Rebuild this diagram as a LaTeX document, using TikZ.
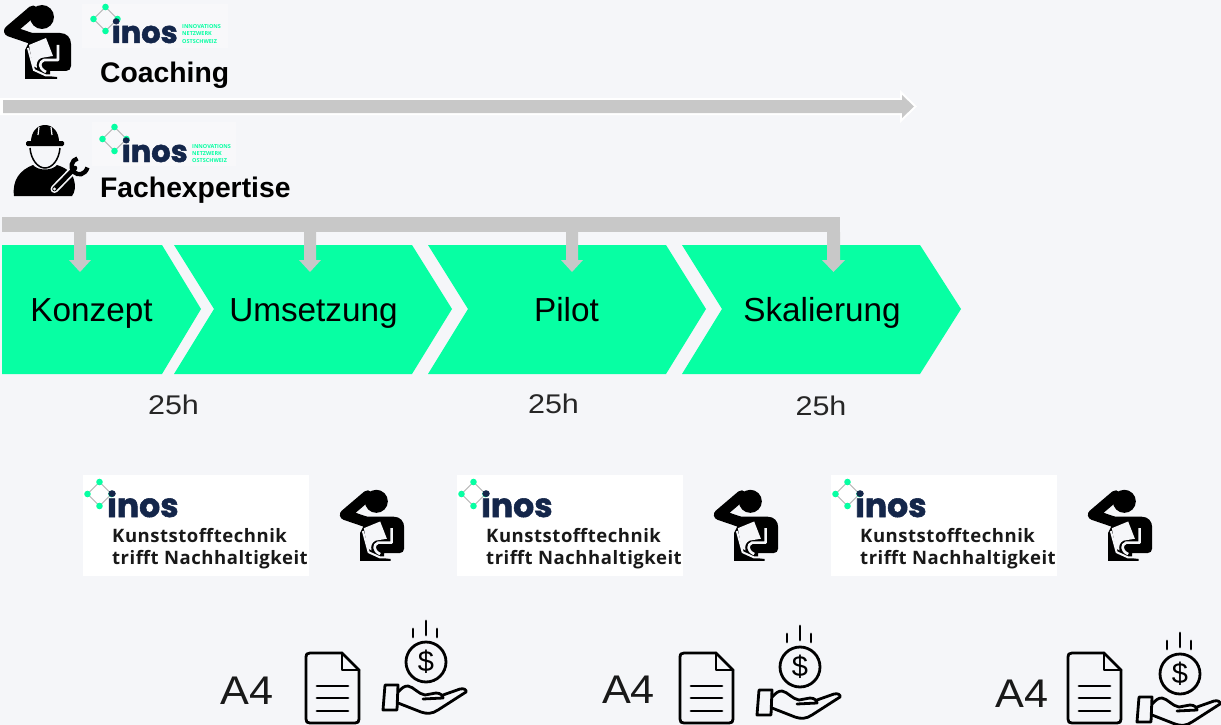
\documentclass[tikz,border=0pt]{standalone}
\usepackage{graphicx}
\usepackage{fontspec}
\setmainfont{Liberation Sans}
\newfontfamily\inosfont[BoldFeatures={FakeBold=1.6}]{Poppins}
\newfontfamily\opensans{Open Sans}
\definecolor{pagebg}{HTML}{F5F6F9}
\definecolor{mint}{HTML}{07FFA3}
\definecolor{greybar}{HTML}{C8C8C8}
\definecolor{navy}{HTML}{14264A}
\tikzset{
  x=1pt,y=-1pt,
  chevron/.style={fill=mint,draw=none},
  bar/.style={fill=greybar,draw=none},
  steplabel/.style={font=\fontsize{33.3}{33}\selectfont,text=black,inner sep=0pt,anchor=base},
  hours/.style={font=\fontsize{27}{27}\selectfont,text=black!85,inner sep=0pt,anchor=base},
  headlabel/.style={font=\fontsize{28.3}{28}\selectfont\bfseries,text=black,inner sep=0pt,anchor=base west},
  a4label/.style={font=\fontsize{40}{40}\selectfont,text=black!90,inner sep=0pt,anchor=base},
  iconline/.style={draw=black,line width=2.8pt,line join=round,line cap=round,fill=none},
  logotext/.style={font=\inosfont\fontsize{33}{33}\selectfont\bfseries,text=navy,inner sep=0pt,anchor=base west},
  headlogo/.style={font=\inosfont\fontsize{30.5}{31}\selectfont\bfseries,text=navy,inner sep=0pt,anchor=base west},
  tinylogo/.style={font=\opensans\fontsize{5.5}{7.2}\selectfont\bfseries,text=mint,inner sep=0pt,anchor=west,align=left},
  kttext/.style={font=\opensans\addfontfeature{LetterSpace=2.9}\fontsize{18.5}{22.6}\selectfont\bfseries,text=black!90,inner sep=0pt,anchor=base west,align=left},
}
\newcommand{\diamondlogo}[1]{%
  \begin{scope}[shift={#1}]
    \draw[gray!60,line width=.8pt] (0,-12)--(12,0)--(0,12)--(-12,0)--cycle;
    \foreach \p in {(0,-12),(12,0),(0,12),(-12,0)} \fill[mint] \p circle (3.3);
  \end{scope}}
\newcommand{\coachicon}[2]{%
  \begin{scope}[shift={#1},scale=#2]
    % head and raised arm
    \fill (42,17) circle (12);
    \draw[line width=#2*11pt,line join=round,line cap=round] (33,11) -- (9.5,31) -- (30,38);
    % torso
    \fill (30,33) -- (60,33) ..controls (67,33) and (71,38) .. (71,44) -- (71,66) ..controls (71,69) and (69,71) .. (66,71) -- (50,71) -- (50,76) -- (57,77) -- (57,79) -- (25,79) -- (25,50) -- (28,44) -- cycle;
    % paper and hand in white
    \fill[pagebg] (29,45) -- (46,38) -- (53,56) -- (41,58) ..controls (37,60) and (36,64) .. (37,68) -- (33,66) -- cycle;
    \draw[pagebg,line width=2.6pt,line join=round] (58,45) -- (58,60) -- (44,60) ..controls (39,62) and (38,68) .. (46,72);
    \draw[pagebg,line width=2pt] (28,48) -- (34,70) -- (46,75.5) -- (57,75.5);
  \end{scope}}
\newcommand{\workericon}{%
    % helmet
    \fill (31,142) ..controls (31,132) and (37,125) .. (45,125) ..controls (53,125) and (59,132) .. (59,142) -- cycle;
    \fill[rounded corners=1.5pt] (26,141) rectangle (64,146);
    \draw[pagebg,line width=1.2pt] (39,127) -- (38,135) (51,127) -- (52,135);
    % face
    \draw[line width=1.5pt] (30,148) ..controls (31,160) and (38,168) .. (45,168) ..controls (52,168) and (59,160) .. (60,148);
    % body
    \fill (14,196) ..controls (12,180) and (20,170) .. (33,165) ..controls (38,171) and (52,171) .. (57,165) ..controls (66,168) and (72,172) .. (74,180) ..controls (76,186) and (75,192) .. (72,196) -- cycle;
    % wrench
    \draw[pagebg,line width=8pt,line cap=round] (54.5,189) -- (74,169);
    \draw[line width=4.6pt,line cap=round] (54.5,189) -- (75,168);
    \fill[pagebg] (54.5,189) circle (1.6);
    \draw[line width=4.4pt,line cap=butt] (77.5,158.5) ..controls (71,160) and (70,168) .. (74,172) ..controls (78,176) and (85,175) .. (87.5,167.5);
}
\newcommand{\docicon}[1]{%
  \begin{scope}[shift={#1}]
    \draw[iconline] (2,7) ..controls (2,3) and (3,2) .. (6,2) -- (38,2) -- (55,19) -- (55,68) ..controls (55,71) and (54,72) .. (51,72) -- (6,72) ..controls (3,72) and (2,71) .. (2,68) -- cycle;
    \draw[iconline] (38,2) -- (38,19) -- (55,19);
    \draw[iconline] (13,35) -- (44,35) (13,47) -- (44,47) (13,60) -- (44,60);
  \end{scope}}
\newcommand{\handicon}[2]{%
  \begin{scope}[shift={#1}]
    \draw[iconline] (0,0) -- (0,14);
    \draw[iconline] (-13,8) -- (-13,16) (11,8) -- (11,16);
    \draw[iconline] (0,41) circle (20);
    \node[inner sep=0pt,font=\fontsize{29}{29}\selectfont] (#2) at (0,41) {\$};
    \draw[iconline] (-41,64) -- (-28,64) -- (-29,89) -- (-43,89) -- cycle;
    \draw[iconline] (-28,71) ..controls (-24,67) and (-22,65) .. (-18,65) ..controls (-12,66) and (-8,73) .. (-1,74) -- (10,72) ..controls (15,72) and (17,75) .. (17,77) -- (-3,78);
    \draw[iconline] (17,74) -- (34,68) ..controls (38,67) and (41,69) .. (40,71) -- (12,89) ..controls (6,93) and (1,93) .. (-5,91) -- (-28,82);
  \end{scope}}
\begin{document}
\begin{tikzpicture}
\useasboundingbox (0,0) rectangle (1221,725);
\fill[pagebg] (0,0) rectangle (1221,725);

% top arrow
\fill[white] (0,98) -- (900,98) -- (900,90) -- (917,106.5) -- (900,123) -- (900,115) -- (0,115) -- cycle;
\fill[bar] (3,100) -- (902,100) -- (902,95) -- (914,106.5) -- (902,118) -- (902,113) -- (3,113) -- cycle;

% header rows
\coachicon{(0,0)}{1}
\fill[white,opacity=.3] (82,4) rectangle (228,48);
\diamondlogo{(105.5,19)}
\node[headlogo] (l1) at (111.5,43) {inos};
\node[tinylogo] (t1) at (182,34) {INNOVATIONS\\NETZWERK\\OSTSCHWEIZ};
\node[headlabel] (coach) at (100,82) {Coaching};

\workericon
\fill[white,opacity=.3] (92,122) rectangle (236,166);
\diamondlogo{(114.5,139)}
\node[headlogo] (l2) at (121.5,162) {inos};
\node[tinylogo] (t2) at (192,153.5) {INNOVATIONS\\NETZWERK\\OSTSCHWEIZ};
\node[headlabel] (fach) at (100,197) {Fachexpertise};

% chevrons
\fill[chevron] (2,245) -- (162,245) -- (201,309) -- (162,374) -- (2,374) -- cycle;
\fill[chevron] (174,245) -- (412,245) -- (452,309) -- (412,374) -- (174,374) -- (214,309) -- cycle;
\fill[chevron] (428,245) -- (666,245) -- (706,309) -- (666,374) -- (428,374) -- (468,309) -- cycle;
\fill[chevron] (682,245) -- (920,245) -- (961,309) -- (920,374) -- (682,374) -- (722,309) -- cycle;
\node[steplabel] (s1) at (91.5,321) {Konzept};
\node[steplabel] (s2) at (313.5,321) {Umsetzung};
\node[steplabel] (s3) at (566.5,321) {Pilot};
\node[steplabel] (s4) at (822,321) {Skalierung};

% expertise bar with drops
\fill[bar] (2,217) rectangle (840,232);
\foreach \cx/\w in {80/6,310/6,572/6,833.5/6.5}{
  \fill[bar] (\cx-\w,232) -- (\cx+\w,232) -- (\cx+\w,260) -- (\cx+\w+5,260) -- (\cx,272) -- (\cx-\w-5,260) -- (\cx-\w,260) -- cycle;
}

\node[hours] (h1) at (173.5,414) {\scalebox{1.13}[1]{25h}};
\node[hours] (h2) at (553.5,413) {\scalebox{1.13}[1]{25h}};
\node[hours] (h3) at (821,415) {\scalebox{1.13}[1]{25h}};

% workshop cards
\foreach \dx/\nm in {0/a,374/b,748/c}{
  \begin{scope}[shift={(\dx,0)}]
    \fill[white] (83,475) rectangle (309,576);
    \diamondlogo{(99.5,494)}
    \node[logotext] (logo\nm) at (107,517) {inos};
    \node[kttext] (kt\nm) at (112,542) {Kunststofftechnik};
    \node[kttext] (ku\nm) at (112,564.5) {trifft Nachhaltigkeit};
    \coachicon{(336,485)}{.96}
  \end{scope}
}

% A4, document, hand
\node[a4label] (a1) at (247,704) {\scalebox{1.08}[1]{A4}};
\docicon{(304,651)}
\handicon{(426,621)}{d1}
\node[a4label] (a2) at (628.5,703) {\scalebox{1.08}[1]{A4}};
\docicon{(678,651)}
\handicon{(800,626)}{d2}
\node[a4label] (a3) at (1022,707) {\scalebox{1.08}[1]{A4}};
\docicon{(1066,651)}
\handicon{(1180,633)}{d3}
\end{tikzpicture}
\end{document}
